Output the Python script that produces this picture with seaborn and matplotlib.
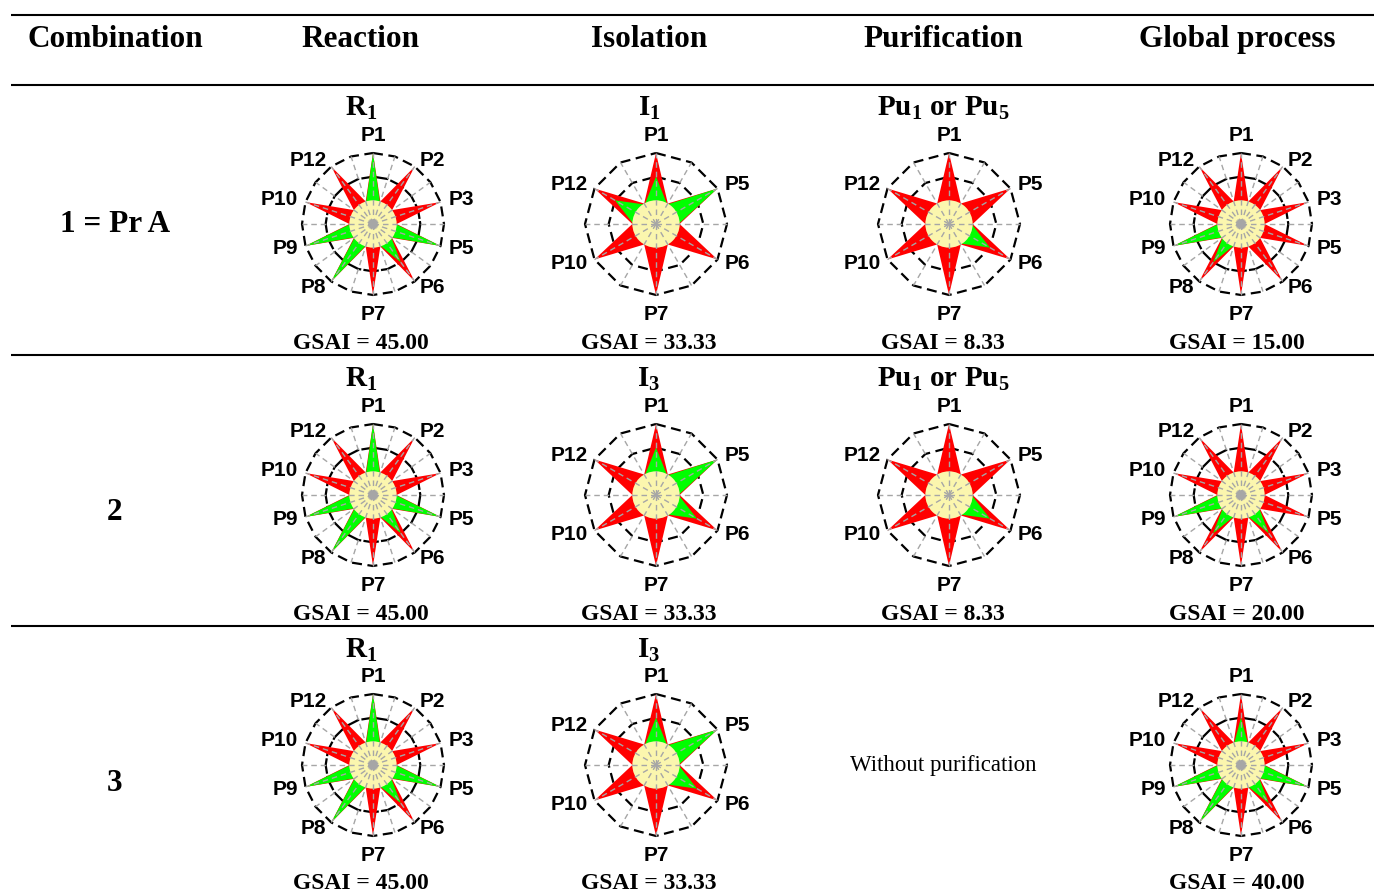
import numpy as np
import matplotlib
matplotlib.use("Agg")
import matplotlib.pyplot as plt
from matplotlib.patches import Circle
import seaborn as sns

# ---------------- data ----------------
column_titles = ["Combination", "Reaction", "Isolation", "Purification", "Global process"]
combinations = ["1 = Pr A", "2", "3"]

criteria_10 = ["P1", "P2", "P3", "P5", "P6", "P7", "P8", "P9", "P10", "P12"]
criteria_6 = ["P1", "P5", "P6", "P7", "P10", "P12"]

reaction_R1 = [3, 1, 1, 3, 2, 1, 3, 3, 1, 1]
isolation_I1 = [2, 3, 1, 1, 1, 2]
isolation_I3 = [2, 3, 2, 1, 1, 1]
purification_Pu1 = [1, 1, 2, 1, 1, 1]
global_1 = [1, 1, 1, 1, 1, 1, 2, 3, 1, 1]
global_2 = [1, 1, 1, 1, 2, 1, 2, 3, 1, 1]
global_3 = [2, 1, 1, 3, 2, 1, 3, 3, 1, 1]

stage_names = [
    [r"$\mathbf{R_{1}}$", r"$\mathbf{I_{1}}$", r"$\mathbf{Pu_{1}}$ or $\mathbf{Pu_{5}}$", ""],
    [r"$\mathbf{R_{1}}$", r"$\mathbf{I_{3}}$", r"$\mathbf{Pu_{1}}$ or $\mathbf{Pu_{5}}$", ""],
    [r"$\mathbf{R_{1}}$", r"$\mathbf{I_{3}}$", "", ""],
]
stage_values = [
    [reaction_R1, isolation_I1, purification_Pu1, global_1],
    [reaction_R1, isolation_I3, purification_Pu1, global_2],
    [reaction_R1, isolation_I3, None, global_3],
]
gsai = [
    [45.00, 33.33, 8.33, 15.00],
    [45.00, 33.33, 8.33, 20.00],
    [45.00, 33.33, None, 40.00],
]
no_purification_text = "Without purification"

# ---------------- style ----------------
sns.set_theme(style="white")
plt.rcParams["font.family"] = ["Liberation Serif", "DejaVu Serif"]
plt.rcParams["text.color"] = "black"
plt.rcParams["mathtext.fontset"] = "custom"
plt.rcParams["mathtext.rm"] = "Liberation Serif"
plt.rcParams["mathtext.bf"] = "Liberation Serif:bold"
plt.rcParams["mathtext.it"] = "Liberation Serif:italic"

W, H, DPI = 1374, 892, 100
fig = plt.figure(figsize=(W / DPI, H / DPI), dpi=DPI)
fig.patch.set_facecolor("white")

base = fig.add_axes([0, 0, 1, 1])
base.set_xlim(0, W)
base.set_ylim(H, 0)
base.set_axis_off()

RED = "#FF0000"
GREEN = "#00FF00"
YELLOW = "#FBF6AE"
GRAY = "#A6A6A6"
PX = 71 / 3.0  # pixels per radial unit

# table rules
for y in [15, 85, 355, 626]:
    base.plot([11, W], [y, y], color="black", lw=1.5, solid_capstyle="butt")

col_x = [115, 361, 649, 943, 1237]
star_x = [373, 656, 949, 1241]
row_y = [224, 495, 765]
gsai_y = [349, 620, 889]

for x, t in zip(col_x, column_titles):
    base.text(x, 47, t, ha="center", va="baseline", fontsize=22.5, fontweight="bold",
              color="black")

for y, c in zip([232, 520, 791], combinations):
    base.text(col_x[0], y, c, ha="center", va="baseline", fontsize=22.5, fontweight="bold",
              color="black")


def draw_star(cx, cy, labels, values):
    n = len(labels)
    m = 2 * n
    half = 150
    ax = fig.add_axes([(cx - half) / W, 1 - (cy + half) / H, 2 * half / W, 2 * half / H])
    ax.set_facecolor("none")
    theta = np.pi / 2 - np.arange(m) * 2 * np.pi / m
    cos, sin = np.cos(theta), np.sin(theta)
    vals = np.asarray(values, dtype=float)
    full = np.where(np.arange(m) % 2 == 0, 3.0, 1.0)
    green = np.full(m, 0.95)
    green[0::2] = np.where(vals > 1, vals, 0.95)

    idx = np.r_[np.arange(m), 0]
    inner_ls = (0, (7, 1.0)) if n == 10 else (0, (4.5, 2.5))
    for rr, ls in [(3.0, (0, (4.5, 2.5))), (2.0, inner_ls)]:
        sns.lineplot(x=rr * cos[idx], y=rr * sin[idx], sort=False, estimator=None,
                     color="black", lw=1.6, linestyle=ls, ax=ax, zorder=1)

    ax.fill(full * cos, full * sin, color=RED, lw=0, zorder=2)
    ax.fill(green * cos, green * sin, color=GREEN, lw=0, zorder=3)
    ax.add_patch(Circle((0, 0), 1.0, facecolor=YELLOW, edgecolor="none", zorder=4))
    for c, s in zip(cos, sin):
        ax.plot([0, 3 * c], [0, 3 * s], color=GRAY, lw=1.0, linestyle=(0, (4, 2.8)),
                zorder=5, dash_capstyle="butt")
    if n == 10:
        ax.add_patch(Circle((0, 0), 0.2, facecolor=GRAY, edgecolor="none", zorder=6))

    rl = 3.0 + 8 / PX
    for k, lab in enumerate(labels):
        c, s = cos[2 * k], sin[2 * k]
        ha = "left" if c > 0.2 else ("right" if c < -0.2 else "center")
        va = "bottom" if s > 0.9 else ("top" if s < -0.9 else "center")
        yo = -0.08 if va == "top" else 0
        ax.text(rl * c, rl * s + yo, lab, ha=ha, va=va, fontsize=15, fontweight="bold",
                color="black", family=["Liberation Sans", "DejaVu Sans"], zorder=7)

    lim = half / PX
    ax.set_xlim(-lim, lim)
    ax.set_ylim(-lim, lim)
    ax.set_axis_off()


for r in range(3):
    for j in range(4):
        vals = stage_values[r][j]
        cx = star_x[j]
        cy = row_y[r]
        if vals is None:
            base.text(col_x[j + 1], cy + 6, no_purification_text, ha="center", va="baseline",
                      fontsize=16.5, color="black")
            continue
        labels = criteria_10 if len(vals) == 10 else criteria_6
        draw_star(cx, cy, labels, vals)
        if stage_names[r][j]:
            base.text(col_x[j + 1], 116 + 271 * r, stage_names[r][j], ha="center",
                      va="baseline", fontsize=21, fontweight="bold", color="black")
        base.text(col_x[j + 1], gsai_y[r], f"GSAI = {gsai[r][j]:.2f}", ha="center",
                  va="baseline", fontsize=17, fontweight="bold", color="black")

fig.savefig("out.png", dpi=DPI, facecolor="white")
